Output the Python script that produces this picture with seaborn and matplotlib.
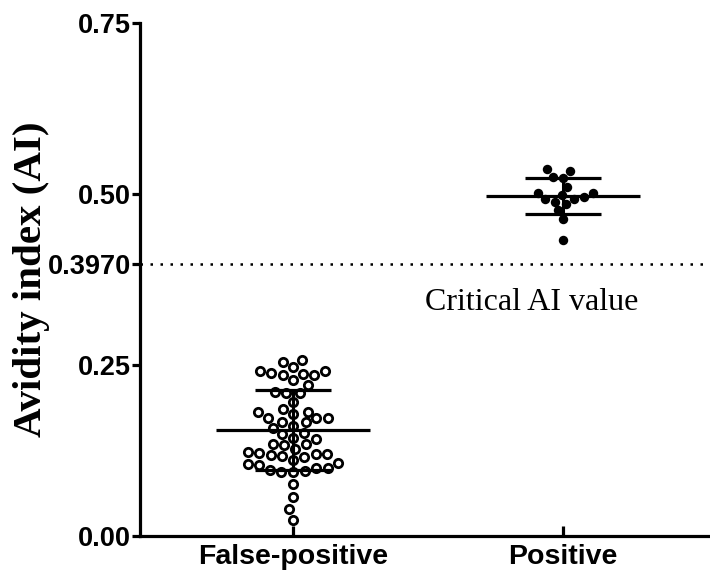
import numpy as np
import pandas as pd
import matplotlib
matplotlib.use("Agg")
import matplotlib.pyplot as plt
import seaborn as sns

# ---- data ----
groups = ["False-positive", "Positive"]
false_positive = [
    0.257, 0.255, 0.247, 0.241, 0.241, 0.238, 0.237, 0.235, 0.235, 0.228,
    0.221, 0.211, 0.209, 0.209, 0.196,
    0.186, 0.182, 0.181, 0.179, 0.173, 0.173, 0.172, 0.167, 0.166, 0.161,
    0.158, 0.150, 0.149, 0.144, 0.142, 0.135, 0.134, 0.133,
    0.127, 0.123, 0.121, 0.120, 0.120, 0.118, 0.117, 0.116, 0.111, 0.106,
    0.105, 0.104, 0.100, 0.100, 0.097, 0.095, 0.094, 0.094, 0.076, 0.057,
    0.039, 0.024,
]
positive = [
    0.534, 0.536, 0.524, 0.525, 0.510, 0.502, 0.495, 0.492, 0.498, 0.502,
    0.492, 0.489, 0.485, 0.476, 0.464, 0.433,
]
critical_value = 0.397
critical_label = "Critical AI value"
y_ticks = [0.0, 0.25, 0.397, 0.50, 0.75]
y_tick_labels = ["0.00", "0.25", "0.3970", "0.50", "0.75"]
y_label = "Avidity index (AI)"

df = pd.DataFrame({
    "group": [groups[0]] * len(false_positive) + [groups[1]] * len(positive),
    "value": false_positive + positive,
})

sns.set_style("ticks")
plt.rcParams["font.family"] = ["Liberation Sans", "DejaVu Sans"]
for key in ["text.color", "axes.edgecolor", "axes.labelcolor",
            "xtick.color", "ytick.color"]:
    plt.rcParams[key] = "black"

fig = plt.figure(figsize=(7.10, 5.71), dpi=100)
ax = fig.add_axes([140 / 710, 35 / 571, 570 / 710, 513 / 571])

sns.swarmplot(data=df[df.group == groups[0]], x="group", y="value", order=groups,
              marker="o", size=6.0, facecolor="white", edgecolor="black",
              linewidth=2.0, color="white", ax=ax, zorder=3)
sns.swarmplot(data=df[df.group == groups[1]], x="group", y="value", order=groups,
              marker="o", size=6.8, color="black", linewidth=0, ax=ax, zorder=3)
for coll in ax.collections[:1]:
    coll.set_facecolor("white")
    coll.set_edgecolor("black")
    coll.set_linewidth(2.0)

means = [np.mean(false_positive), np.mean(positive)]
sds = [np.std(false_positive, ddof=1), np.std(positive, ddof=1)]
for i, (m, s) in enumerate(zip(means, sds)):
    ax.hlines(m, i - 0.285, i + 0.285, color="black", lw=2.3, zorder=4)
ax.errorbar([0, 1], means, yerr=sds, fmt="none", ecolor="black",
            elinewidth=2.2, capsize=27.5, capthick=2.3, zorder=4)

ax.axhline(critical_value, color="black", lw=1.8, linestyle=(0, (1, 3)), zorder=2)
ax.text(0.489, 0.341, critical_label, fontsize=23, family="Liberation Serif",
        color="black", ha="left", va="center")

ax.set_xlim(-0.567, 1.544)
ax.set_ylim(0, 0.75)
ax.set_yticks(y_ticks)
ax.set_yticklabels(y_tick_labels)
ax.set_xlabel("")
ax.set_ylabel(y_label, fontsize=29.5, family="Liberation Serif",
              fontweight="bold", color="black")
ax.yaxis.set_label_coords(-0.158, 0.5)

for lab in ax.get_xticklabels():
    lab.set_fontweight("bold")
    lab.set_fontsize(20.5)
    lab.set_color("black")
for lab in ax.get_yticklabels():
    lab.set_fontweight("bold")
    lab.set_fontsize(19.5)
    lab.set_color("black")

sns.despine(ax=ax)
ax.spines["left"].set_linewidth(2.3)
ax.spines["bottom"].set_linewidth(2.3)
ax.spines["left"].set_color("black")
ax.spines["bottom"].set_color("black")
ax.tick_params(axis="y", direction="out", length=5.5, width=2.3, pad=1,
               colors="black")
ax.tick_params(axis="x", direction="in", length=7, width=2.3, pad=6,
               colors="black")

fig.savefig("out.png", dpi=100)
